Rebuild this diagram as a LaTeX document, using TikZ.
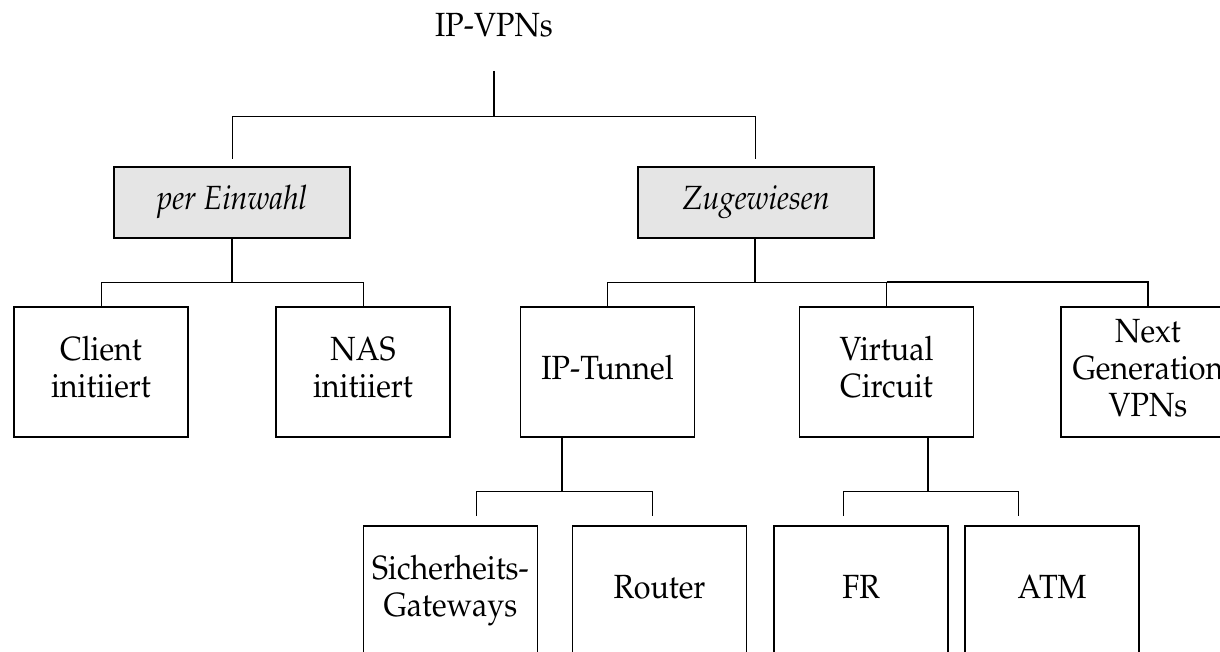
\documentclass[tikz,border=0pt]{standalone}
\usepackage[T1]{fontenc}
\usepackage{mathpazo}
\usepackage{graphicx}
\definecolor{boxgray}{HTML}{E5E5E5}
\newcommand{\vtxt}[1]{\raisebox{-3pt}{\scalebox{1}[1.1]{\begin{tabular}{@{}c@{}}#1\end{tabular}}}}
\tikzset{
  box/.style={draw=black, line width=1.4pt, fill=white, minimum width=174pt, minimum height=130pt,
    inner sep=0pt, align=center, font=\fontsize{30.5}{33.6}\selectfont},
  graybox/.style={box, fill=boxgray, minimum width=236pt, minimum height=71pt},
  thinline/.style={line width=0.9pt},
  thickline/.style={line width=1.8pt},
}
\begin{document}
\begin{tikzpicture}[x=1pt,y=-1pt]
\useasboundingbox (0,0) rectangle (1220,652);
% root
\node[anchor=base, font=\fontsize{30.5}{33.6}\selectfont, inner sep=0pt] (root) at (494,37) {\scalebox{1}[1.1]{IP-VPNs}};
\coordinate (rt) at (494,71);
\coordinate (rb) at (494,116);
\coordinate (rl) at (232,116);
\coordinate (rr) at (755,116);
\coordinate (rld) at (232,159);
\coordinate (rrd) at (755,159);
% level 1
\node[graybox] (pe) at (232,202.5) {\vtxt{\itshape per Einwahl}};
\node[graybox] (zu) at (756,202.5) {\vtxt{\itshape Zugewiesen}};
% level 2
\node[box] (cl) at (101,372) {\vtxt{Client\\initiiert}};
\node[box] (nas) at (363,372) {\vtxt{NAS\\initiiert}};
\node[box] (ipt) at (607.5,372) {\vtxt{IP-Tunnel}};
\node[box] (vc) at (886.5,372) {\vtxt{Virtual\\Circuit}};
\node[box] (ng) at (1148,372) {\vtxt{Next\\Generation\\VPNs}};
% level 3
\node[box] (sg) at (450.5,591) {\vtxt{Sicherheits-\\Gateways}};
\node[box] (ro) at (659.5,591) {\vtxt{Router}};
\node[box] (fr) at (861,591) {\vtxt{FR}};
\node[box] (atm) at (1052,591) {\vtxt{ATM}};

% root connectors
\draw[thickline] (rt) -- (rb);
\draw[thinline] (rld) -- (rl) -- (rr) -- (rrd);

% per Einwahl connectors
\coordinate (pej) at (232,282);
\draw[thickline] (pe.south) -- (pej);
\draw[thinline] (cl.north) -- (cl.north |- pej) -- (nas.north |- pej) -- (nas.north);

% Zugewiesen connectors
\coordinate (zuj) at (755,282);
\draw[thickline] (zu.south -| zuj) -- (zuj);
\draw[thinline] (ipt.north) -- (ipt.north |- zuj) -- (vc.north |- zuj) -- (vc.north);
\draw[thickline] (vc.north |- zuj) -- (ng.north |- zuj) -- (ng.north);

% IP-Tunnel connectors
\coordinate (iptj) at (562,491);
\draw[thickline] (ipt.south -| iptj) -- (iptj);
\coordinate (sgt) at (476,516);
\coordinate (rot) at (652,516);
\draw[thinline] (sgt) -- (sgt |- iptj) -- (rot |- iptj) -- (rot);

% Virtual Circuit connectors
\coordinate (vcj) at (928,491);
\draw[thickline] (vc.south -| vcj) -- (vcj);
\coordinate (frt) at (843,516);
\coordinate (atmt) at (1018,516);
\draw[thinline] (frt) -- (frt |- vcj) -- (atmt |- vcj) -- (atmt);
\end{tikzpicture}
\end{document}
